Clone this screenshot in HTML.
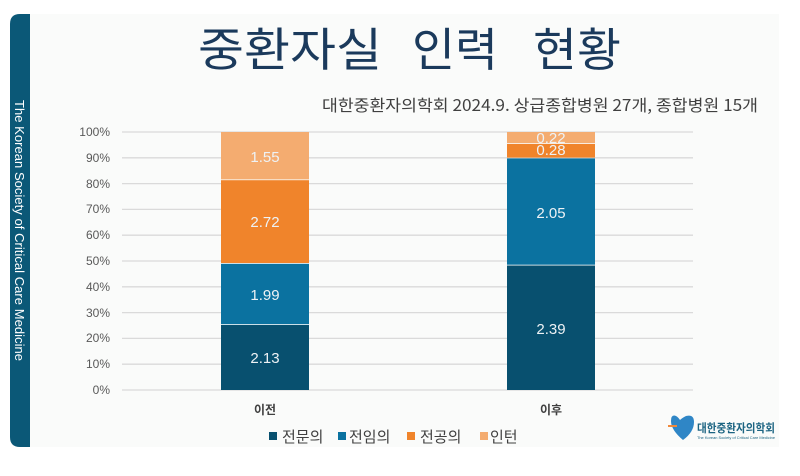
<!DOCTYPE html>
<html>
<head>
<meta charset="utf-8">
<style>
  html,body{margin:0;padding:0;background:#ffffff;}
  svg{display:block;}
  text{font-family:"Liberation Sans","Noto Sans CJK KR",sans-serif;}
  .kr{font-family:"Noto Sans CJK KR","Liberation Sans",sans-serif;}
</style>
</head>
<body>
<svg width="800" height="476" viewBox="0 0 800 476" xmlns="http://www.w3.org/2000/svg">
  <rect x="0" y="0" width="800" height="476" fill="#ffffff"/>
  <!-- panel -->
  <rect x="28" y="14" width="751" height="433" fill="#fafbfa"/>
  <!-- sidebar -->
  <path d="M40 14 H30 V447 H20 Q10 447 10 437 V24 Q10 14 20 14 Z" fill="#0b5877"/>
  <rect x="20" y="14" width="10" height="433" fill="#0b5877"/>
  <text transform="translate(15,100) rotate(90)" font-size="13" fill="#ffffff" textLength="261" lengthAdjust="spacing">The Korean Society of Critical Care Medicine</text>

  <!-- title -->
  <text class="kr" x="290" y="66" font-size="46" fill="#1b3a5c" text-anchor="middle" textLength="184" lengthAdjust="spacingAndGlyphs">중환자실</text>
  <text class="kr" x="455" y="66" font-size="46" fill="#1b3a5c" text-anchor="middle" textLength="86" lengthAdjust="spacingAndGlyphs">인력</text>
  <text class="kr" x="577" y="66" font-size="46" fill="#1b3a5c" text-anchor="middle" textLength="88" lengthAdjust="spacingAndGlyphs">현황</text>

  <!-- subtitle -->
  <text class="kr" x="322" y="111" font-size="16" fill="#404040" textLength="436" lengthAdjust="spacingAndGlyphs">대한중환자의학회 2024.9. 상급종합병원 27개, 종합병원 15개</text>

  <!-- gridlines -->
  <g stroke="#dadada" stroke-width="1.3">
    <line x1="122" y1="132" x2="693" y2="132"/>
    <line x1="122" y1="157.8" x2="693" y2="157.8"/>
    <line x1="122" y1="183.6" x2="693" y2="183.6"/>
    <line x1="122" y1="209.4" x2="693" y2="209.4"/>
    <line x1="122" y1="235.2" x2="693" y2="235.2"/>
    <line x1="122" y1="261" x2="693" y2="261"/>
    <line x1="122" y1="286.8" x2="693" y2="286.8"/>
    <line x1="122" y1="312.6" x2="693" y2="312.6"/>
    <line x1="122" y1="338.4" x2="693" y2="338.4"/>
    <line x1="122" y1="364.2" x2="693" y2="364.2"/>
    <line x1="122" y1="390" x2="693" y2="390"/>
  </g>

  <!-- y labels -->
  <g font-size="12" fill="#595959" text-anchor="end">
    <text x="110" y="136">100%</text>
    <text x="110" y="162">90%</text>
    <text x="110" y="188">80%</text>
    <text x="110" y="213">70%</text>
    <text x="110" y="239">60%</text>
    <text x="110" y="265">50%</text>
    <text x="110" y="291">40%</text>
    <text x="110" y="317">30%</text>
    <text x="110" y="342">20%</text>
    <text x="110" y="368">10%</text>
    <text x="110" y="394">0%</text>
  </g>

  <!-- bar 1 -->
  <rect x="221" y="325" width="88" height="65" fill="#08506f"/>
  <rect x="221" y="263.8" width="88" height="60.4" fill="#0b72a0"/>
  <rect x="221" y="180.2" width="88" height="82.8" fill="#f0842b"/>
  <rect x="221" y="132" width="88" height="47.4" fill="#f4ac70"/>
  <!-- bar 2 -->
  <rect x="507" y="265.5" width="88" height="124.5" fill="#08506f"/>
  <rect x="507" y="158.4" width="88" height="106.3" fill="#0b72a0"/>
  <rect x="507" y="144" width="88" height="13.6" fill="#f0842b"/>
  <rect x="507" y="132" width="88" height="11.2" fill="#f4ac70"/>

  <!-- data labels -->
  <g font-size="15" fill="#eef2f5" text-anchor="middle">
    <text x="265" y="162">1.55</text>
    <text x="265" y="227">2.72</text>
    <text x="265" y="300">1.99</text>
    <text x="265" y="363">2.13</text>
    <text x="551" y="334">2.39</text>
    <text x="551" y="218">2.05</text>
    <text x="551" y="155">0.28</text>
    <text x="551" y="143">0.22</text>
  </g>

  <!-- category labels -->
  <text class="kr" x="265" y="414" font-size="12" font-weight="bold" fill="#404040" text-anchor="middle">이전</text>
  <text class="kr" x="551" y="414" font-size="12" font-weight="bold" fill="#404040" text-anchor="middle">이후</text>

  <!-- legend -->
  <rect x="269" y="432" width="8" height="8" fill="#08506f"/>
  <text class="kr" x="282" y="442" font-size="15" fill="#404040">전문의</text>
  <rect x="338" y="432" width="8" height="8" fill="#0b72a0"/>
  <text class="kr" x="349" y="442" font-size="15" fill="#404040">전임의</text>
  <rect x="407" y="432" width="8" height="8" fill="#f0842b"/>
  <text class="kr" x="420" y="442" font-size="15" fill="#404040">전공의</text>
  <rect x="480" y="432" width="8" height="8" fill="#f4ac70"/>
  <text class="kr" x="490" y="442" font-size="15" fill="#404040">인턴</text>

  <!-- logo -->
  <path d="M676 416 Q671 414 671 421 Q671 430 683 440 Q694 432 694 422 Q694 414 686 416 Q682 418 680 420 Q678 417 676 416 Z" fill="#2f86c6"/>
  <rect x="668" y="425" width="9" height="2" fill="#f08a3c"/>
  <text class="kr" x="697" y="432" font-size="11.5" font-weight="bold" fill="#1c6482" textLength="78" lengthAdjust="spacingAndGlyphs">대한중환자의학회</text>
  <text x="697" y="439" font-size="3.5" fill="#1c6482" textLength="78" lengthAdjust="spacingAndGlyphs">The Korean Society of Critical Care Medicine</text>
</svg>
</body>
</html>
